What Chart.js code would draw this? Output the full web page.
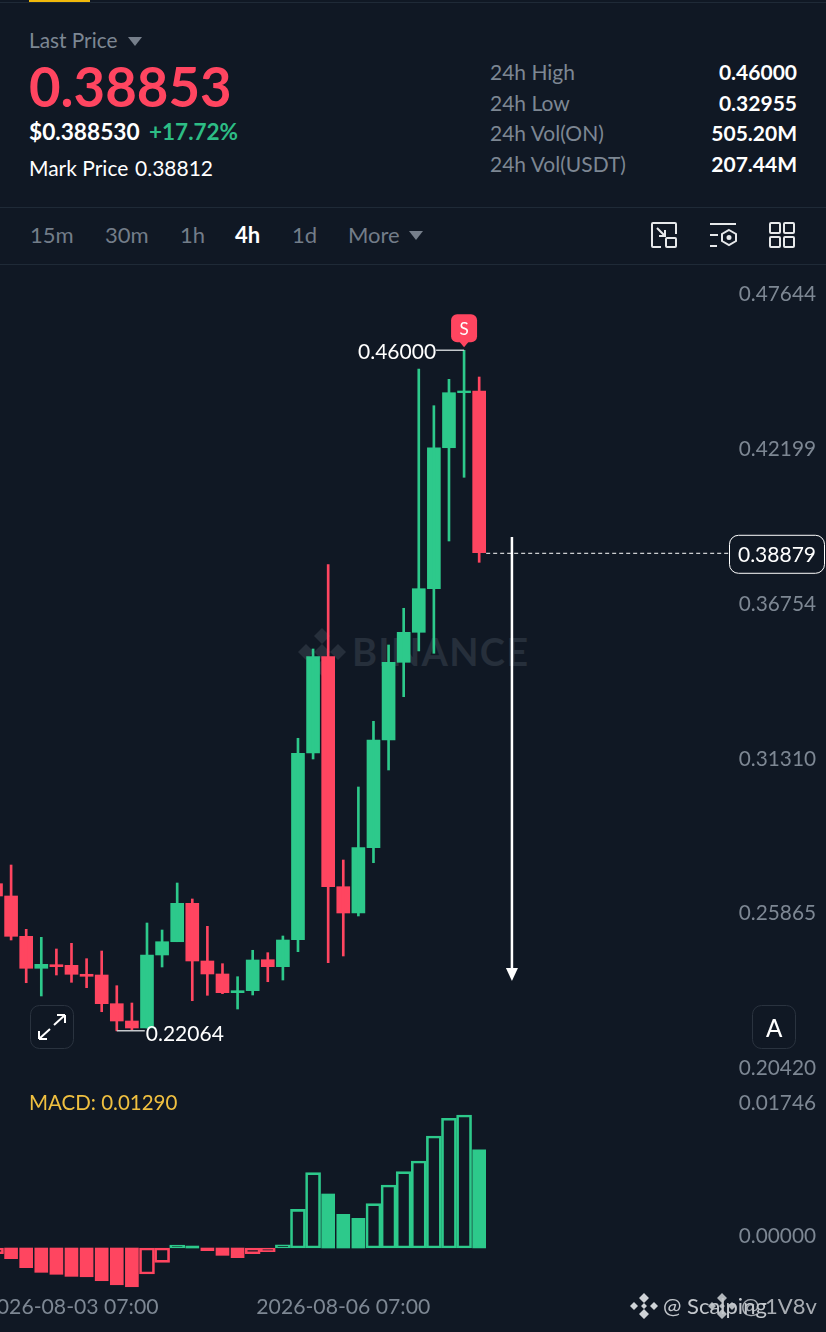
<!DOCTYPE html>
<html>
<head>
<meta charset="utf-8">
<script src="https://cdn.jsdelivr.net/npm/chart.js@4/dist/chart.umd.min.js"></script>
<style>
  html, body { margin: 0; padding: 0; background: #101824; }
  body { width: 826px; height: 1332px; position: relative; overflow: hidden; font-family: Lato, sans-serif; color: #fff; }
  .t { position: absolute; transform: translateY(-50%); white-space: nowrap; line-height: 1; }
  .r { transform: translate(-100%, -50%); }
  .grey { color: #7d8793; }
  .line { position: absolute; left: 0; width: 826px; height: 1px; background: #1f2a37; }
  canvas { position: absolute; left: 0; }
  svg { position: absolute; overflow: visible; }
  .tab { font-size: 22px; color: #737d89; }
</style>
</head>
<body>
<div style="position:absolute;left:29px;top:0;width:61px;height:2px;background:#f0b90b"></div>
<div class="line" style="top:2px"></div>
<div class="line" style="top:207px"></div>
<div class="line" style="top:264px"></div>

<div class="t grey" style="left:29px;top:40px;font-size:20.8px">Last Price</div>
<svg style="left:128px;top:37px" width="14" height="9"><path d="M0 0H14L7 9Z" fill="#767f8b"/></svg>
<div class="t" style="left:29px;top:86px;font-size:54.5px;font-weight:700;color:#ff4560">0.38853</div>
<div class="t" style="left:29px;top:132px;font-size:22.7px;font-weight:700">$0.388530</div>
<div class="t" style="left:149px;top:132px;font-size:22.5px;font-weight:700;color:#2dbd85">+17.72%</div>
<div class="t" style="left:29px;top:167px;font-size:21px">Mark Price</div>
<div class="t" style="left:135px;top:167px;font-size:21px">0.38812</div>

<div class="t grey" style="left:490px;top:71px;font-size:21px">24h High</div>
<div class="t grey" style="left:490px;top:102px;font-size:21px">24h Low</div>
<div class="t grey" style="left:490px;top:132px;font-size:21px">24h Vol(ON)</div>
<div class="t grey" style="left:490px;top:163px;font-size:21px">24h Vol(USDT)</div>
<div class="t r" style="left:797px;top:71px;font-size:21px;font-weight:700">0.46000</div>
<div class="t r" style="left:797px;top:102px;font-size:21px;font-weight:700">0.32955</div>
<div class="t r" style="left:797px;top:132px;font-size:21px;font-weight:700">505.20M</div>
<div class="t r" style="left:797px;top:163px;font-size:21px;font-weight:700">207.44M</div>

<div class="t tab" style="left:30px;top:235px">15m</div>
<div class="t tab" style="left:105px;top:235px">30m</div>
<div class="t tab" style="left:180px;top:235px">1h</div>
<div class="t tab" style="left:235px;top:235px;color:#fff;font-weight:700">4h</div>
<div class="t tab" style="left:292px;top:235px">1d</div>
<div class="t tab" style="left:348px;top:235px">More</div>
<svg style="left:409px;top:231px" width="14" height="9"><path d="M0 0H14L7 9Z" fill="#767f8b"/></svg>

<svg style="left:651px;top:222px" width="26" height="26" fill="none" stroke="#e6e8ea" stroke-width="2">
  <path d="M10 25H2a1 1 0 0 1-1-1V2a1 1 0 0 1 1-1h22a1 1 0 0 1 1 1v10"/>
  <rect x="15" y="16" width="10" height="9" rx="1"/>
  <path d="M6 6l8 8M14 8v6H8"/>
</svg>
<svg style="left:709px;top:222px" width="28" height="26" fill="none" stroke="#e6e8ea" stroke-width="2">
  <path d="M1 2H27M1 13H9M1 24H8"/>
  <path d="M20 8l7 4v7l-7 4-7-4v-7z"/>
  <circle cx="20" cy="15.5" r="1.5" fill="#e6e8ea"/>
</svg>
<svg style="left:769px;top:222px" width="26" height="26" fill="none" stroke="#e6e8ea" stroke-width="2">
  <rect x="1" y="1" width="10" height="10" rx="1"/><rect x="15" y="1" width="10" height="10" rx="1"/>
  <rect x="1" y="15" width="10" height="10" rx="1"/><rect x="15" y="15" width="10" height="10" rx="1"/>
</svg>

<!-- watermark sits under the candles -->
<svg style="left:298px;top:628px" width="48" height="48" fill="#262f3b">
  <path d="M24 0l8 8-8 8-8-8zM8 16l8 8-8 8-8-8zM40 16l8 8-8 8-8-8zM24 16l8 8-8 8-8-8zM24 32l8 8-8 8-8-8z"/>
</svg>
<div class="t" style="left:352px;top:651px;font-size:38px;font-weight:700;letter-spacing:1.3px;color:#262f3b">BINANCE</div>

<canvas id="priceChart" style="top:264px" width="826" height="826"></canvas>
<canvas id="macdChart" style="top:1090px" width="826" height="242"></canvas>

<svg style="left:30px;top:1005px" width="44" height="44" fill="none">
  <rect x=".5" y=".5" width="43" height="43" rx="9" stroke="#2a333f" fill="#101824"/>
  <path d="M9 34L20 24M9 34v-8M9 34h8M35 10L24 20M35 10v8M35 10h-8" stroke="#fff" stroke-width="2"/>
</svg>
<svg style="left:752px;top:1005px" width="44" height="44" fill="none">
  <rect x=".5" y=".5" width="43" height="43" rx="9" stroke="#2a333f" fill="#101824"/>
</svg>
<div class="t" style="left:766px;top:1028px;font-size:24px;font-weight:500">A</div>

<div class="t grey" style="left:29px;top:1102px;font-size:20.5px;color:#f0c040">MACD: 0.01290</div>

<svg style="left:631px;top:1293px" width="26" height="26" fill="#cfd3d7">
  <path d="M13 0l5 5-5 5-5-5zM3 9l4 4-4 4-4-4zM23 9l4 4-4 4-4-4zM13 10l3 3-3 3-3-3zM13 16l5 5-5 5-5-5z"/>
</svg>
<svg style="left:709px;top:1293px" width="26" height="26" fill="#cfd3d7" opacity=".85">
  <path d="M13 0l5 5-5 5-5-5zM3 9l4 4-4 4-4-4zM23 9l4 4-4 4-4-4zM13 10l3 3-3 3-3-3zM13 16l5 5-5 5-5-5z"/>
</svg>
<div class="t" style="left:663px;top:1306px;font-size:22px;color:#c3c7cc">@ Scalping</div>
<div class="t" style="left:741px;top:1306px;font-size:22px;color:#c3c7cc;opacity:.85">@ 1V8v</div>

<script>
const candleOpen = [0.27240, 0.26807, 0.25389, 0.24264, 0.24390, 0.24369, 0.24053, 0.24028, 0.23019, 0.22410, 0.22164, 0.24732, 0.25199, 0.26550, 0.24521, 0.24064, 0.23406, 0.23476, 0.24566, 0.24320, 0.25270, 0.31837, 0.35224, 0.27134, 0.26209, 0.28506, 0.32294, 0.35027, 0.36082, 0.37616, 0.42575, 0.44510, 0.44570];
const candleHigh = [0.27722, 0.27897, 0.25635, 0.25354, 0.24943, 0.25143, 0.24602, 0.24872, 0.23652, 0.23043, 0.25857, 0.25611, 0.27264, 0.26702, 0.25741, 0.24426, 0.23968, 0.24897, 0.24813, 0.25400, 0.32354, 0.35495, 0.38460, 0.28073, 0.30641, 0.32952, 0.35636, 0.36927, 0.45344, 0.44053, 0.44981, 0.46000, 0.45062];
const candleLow = [0.26666, 0.25259, 0.23757, 0.23290, 0.24028, 0.23771, 0.23582, 0.22737, 0.22064, 0.22094, 0.22164, 0.24310, 0.25199, 0.23124, 0.23314, 0.23371, 0.22832, 0.23325, 0.23792, 0.23852, 0.24848, 0.31626, 0.24461, 0.24697, 0.26104, 0.27978, 0.31239, 0.33817, 0.35425, 0.35344, 0.39294, 0.41534, 0.38544];
const candleClose = [0.26807, 0.25389, 0.24264, 0.24404, 0.24320, 0.24053, 0.23982, 0.23019, 0.22410, 0.22164, 0.24732, 0.25199, 0.26550, 0.24521, 0.24064, 0.23406, 0.23476, 0.24556, 0.24320, 0.25259, 0.31826, 0.35224, 0.27134, 0.26209, 0.28506, 0.32294, 0.35027, 0.36082, 0.37616, 0.42575, 0.44510, 0.44570, 0.38879];
const macdValues = [-0.00075, -0.00140, -0.00258, -0.00319, -0.00345, -0.00372, -0.00377, -0.00429, -0.00482, -0.00508, -0.00341, -0.00188, 0.00039, 0.00026, -0.00035, -0.00096, -0.00127, -0.00075, -0.00049, 0.00043, 0.00508, 0.00989, 0.00709, 0.00442, 0.00390, 0.00582, 0.00827, 0.01002, 0.01142, 0.01470, 0.01703, 0.01746, 0.01290];
const priceTicks = [0.47644, 0.42199, 0.36754, 0.31310, 0.25865, 0.20420];
const macdTicks = [0.00000, 0.01746];
const timeLabels = { 5: "2026-08-03 07:00", 23: "2026-08-06 07:00" };
const highIdx = 31, lowIdx = 8, lastIdx = 32;
const highPrice = 0.46000, lowPrice = 0.22064, linePrice = 0.38879;
const arrowIdx = 34.17, arrowTop = 0.39435, arrowBottom = 0.23817;

const GREEN = "#2dc98b", RED = "#ff4560", BG = "#101824", AXIS = "#7d8793";
const FONT = "Lato, sans-serif";

const idx = candleOpen.map((_, i) => i);
const candleColor = idx.map(i => candleClose[i] >= candleOpen[i] ? GREEN : RED);

// same x window on both charts so the histogram lines up under the candles
function xScale(show) {
  return {
    type: "linear", min: 0.265, max: 54.97, display: show, offset: false,
    grid: { display: false, drawTicks: false, offset: false }, border: { display: false },
    afterBuildTicks: s => { s.ticks = Object.keys(timeLabels).map(k => ({ value: +k })); },
    afterFit: s => { s.paddingLeft = 0; s.paddingRight = 0; if (show) s.height = 42; },
    ticks: {
      autoSkip: false, maxRotation: 0, padding: 4, color: AXIS,
      font: { family: FONT, size: 21.2 },
      callback: v => timeLabels[v] || ""
    }
  };
}
function yScale(min, max, values, offset) {
  return {
    position: "right", min, max,
    grid: { display: false, drawTicks: false }, border: { display: false },
    afterBuildTicks: s => { s.ticks = values.map(v => ({ value: v })); },
    afterFit: s => { s.paddingTop = 0; s.paddingBottom = 0; s.width = 0; },
    ticks: {
      mirror: true, padding: -10, labelOffset: offset, color: AXIS,
      font: { family: FONT, size: 20.8 },
      callback: v => v.toFixed(5)
    }
  };
}

const annotations = {
  id: "annotations",
  afterDatasetsDraw(chart) {
    const { ctx, scales: { x, y } } = chart;
    const hx = x.getPixelForValue(highIdx), hy = y.getPixelForValue(highPrice);
    const lx = x.getPixelForValue(lowIdx), ly = y.getPixelForValue(lowPrice);
    const py = y.getPixelForValue(linePrice), px = x.getPixelForValue(lastIdx) + 7;
    ctx.save();
    ctx.font = "21px " + FONT;
    ctx.textBaseline = "middle";

    // high / low leaders
    ctx.strokeStyle = "#c4c8cc";
    ctx.lineWidth = 1.5;
    ctx.beginPath();
    ctx.moveTo(hx, hy); ctx.lineTo(hx - 28, hy);
    ctx.moveTo(lx, ly); ctx.lineTo(lx + 28, ly);
    ctx.stroke();
    ctx.fillStyle = "#fff";
    ctx.textAlign = "right";
    ctx.fillText(highPrice.toFixed(5), hx - 28, hy + 2);
    ctx.textAlign = "left";
    ctx.fillText(lowPrice.toFixed(5), lx + 29, ly + 3);

    // S marker above the high
    ctx.fillStyle = RED;
    ctx.beginPath();
    ctx.roundRect(hx - 13, hy - 36, 26, 28, 6);
    ctx.fill();
    ctx.beginPath();
    ctx.moveTo(hx - 5, hy - 9); ctx.lineTo(hx + 5, hy - 9); ctx.lineTo(hx, hy - 3);
    ctx.fill();
    ctx.fillStyle = "#fff";
    ctx.textAlign = "center";
    ctx.font = "17px " + FONT;
    ctx.fillText("S", hx, hy - 21);

    // last price line + box
    ctx.strokeStyle = "#fff";
    ctx.lineWidth = 1;
    ctx.setLineDash([4, 3]);
    ctx.beginPath();
    ctx.moveTo(px, py + 0.5); ctx.lineTo(730, py + 0.5);
    ctx.stroke();
    ctx.setLineDash([]);
    ctx.fillStyle = BG;
    ctx.beginPath();
    ctx.roundRect(729.5, py - 17.5, 95, 38, 9);
    ctx.fill();
    ctx.stroke();
    ctx.fillStyle = "#fff";
    ctx.font = "21px " + FONT;
    ctx.textAlign = "right";
    ctx.fillText(linePrice.toFixed(5), 816, py + 2);

    // white arrow
    const ax = x.getPixelForValue(arrowIdx), at = y.getPixelForValue(arrowTop), ab = y.getPixelForValue(arrowBottom);
    ctx.lineWidth = 2.5;
    ctx.beginPath();
    ctx.moveTo(ax, at); ctx.lineTo(ax, ab - 10);
    ctx.stroke();
    ctx.fillStyle = "#fff";
    ctx.beginPath();
    ctx.moveTo(ax - 6, ab - 13); ctx.lineTo(ax + 6, ab - 13); ctx.lineTo(ax, ab);
    ctx.fill();
    ctx.restore();
  }
};

new Chart(document.getElementById("priceChart"), {
  type: "bar",
  data: {
    datasets: [
      {
        label: "wick",
        data: idx.map(i => ({ x: i, y: [candleLow[i], candleHigh[i]] })),
        backgroundColor: candleColor, barThickness: 2, borderWidth: 0
      },
      {
        label: "body",
        data: idx.map(i => ({ x: i, y: [candleOpen[i], candleClose[i]] })),
        backgroundColor: candleColor, barThickness: 13, borderWidth: 0
      }
    ]
  },
  options: {
    responsive: false, animation: false, devicePixelRatio: 1,
    layout: { padding: 0 },
    plugins: { legend: { display: false }, tooltip: { enabled: false } },
    datasets: { bar: { grouped: false } },
    scales: { x: xScale(false), y: yScale(0.19983, 0.49037, priceTicks, -9) }
  },
  plugins: [annotations]
});

// rising bars are hollow, falling bars are filled
const rising = macdValues.map((v, i) => i === 0 || v > macdValues[i - 1]);

new Chart(document.getElementById("macdChart"), {
  type: "bar",
  data: {
    datasets: [
      {
        label: "MACD falling",
        data: idx.filter(i => !rising[i]).map(i => ({ x: i, y: macdValues[i] })),
        backgroundColor: c => c.raw && c.raw.y >= 0 ? GREEN : RED,
        barThickness: 13, borderWidth: 0
      },
      {
        label: "MACD rising",
        data: idx.filter(i => rising[i]).map(i => ({ x: i, y: macdValues[i] })),
        backgroundColor: "transparent",
        borderColor: c => c.raw && c.raw.y >= 0 ? GREEN : RED,
        barThickness: 15, borderWidth: 2, borderSkipped: false
      }
    ]
  },
  options: {
    responsive: false, animation: false, devicePixelRatio: 1,
    layout: { padding: 0 },
    plugins: { legend: { display: false }, tooltip: { enabled: false } },
    datasets: { bar: { grouped: false } },
    scales: { x: xScale(true), y: yScale(-0.00551, 0.02074, macdTicks, -12) }
  }
});
</script>
</body>
</html>
